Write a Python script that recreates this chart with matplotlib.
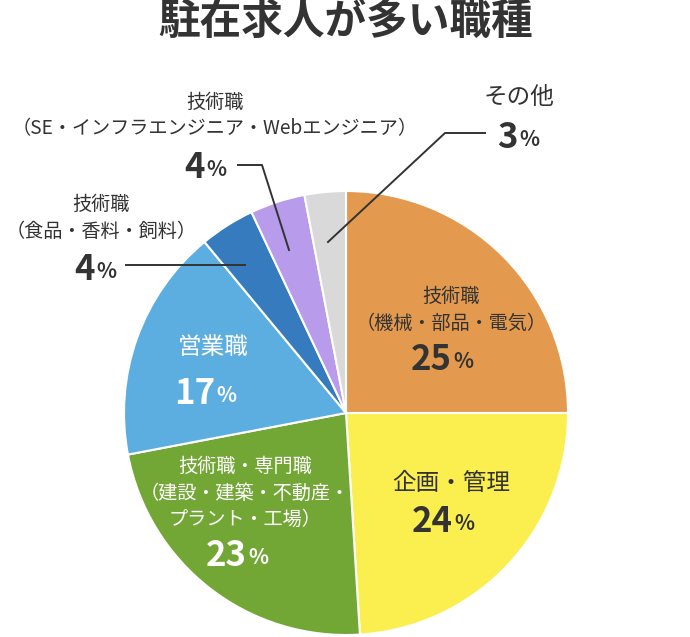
import matplotlib
matplotlib.use('Agg')
import matplotlib.pyplot as plt

plt.rcParams['font.family'] = ['Noto Sans CJK JP', 'DejaVu Sans']

# data
categories = ['技術職\n（機械・部品・電気）', '企画・管理',
              '技術職・専門職\n（建設・建築・不動産・\nプラント・工場）', '営業職',
              '技術職\n（食品・香料・飼料）',
              '技術職\n（SE・インフラエンジニア・Webエンジニア）', 'その他']
shares = [25, 24, 23, 17, 4, 4, 3]
colors = ['#E39A4F', '#FBEE4F', '#72A736', '#5DAEE0', '#367BBE', '#B89BEA', '#D9D9D9']
text_colors = ['#333333', '#333333', 'white', 'white', '#333333', '#333333', '#333333']

W, H = 690, 637
fig = plt.figure(figsize=(W / 100, H / 100), dpi=100)
ax = fig.add_axes([0, 0, 1, 1])

def Y(py):
    return H - py

cx, cy, r = 346, 413, 222
ax.pie(shares, colors=colors, startangle=90, counterclock=False,
       center=(cx, Y(cy)), radius=r, frame=True,
       wedgeprops=dict(edgecolor='white', linewidth=1.5))
ax.set_xlim(0, W)
ax.set_ylim(0, H)
ax.set_aspect('equal')
ax.axis('off')

ax.text(346, Y(22), '駐在求人が多い職種', ha='center', va='center',
        fontsize=30, fontweight='bold', color='#333333')

# label layout: (x of label block, y of label text, y of percent, split x of number/%)
layout = [
    (451, 310, 360, 453),
    (451, 483, 521, 454),
    (245, 493, 555, 248),
    (213, 347, 393, 216),
    (101, 218, 270, 96),
    (215, 116, 168, 206),
    (519, 97, 137, 519),
]

for cat, val, tc, (lx, ly, py, sx) in zip(categories, shares, text_colors, layout):
    fs = 13.8 if '\n' in cat else 17
    ax.text(lx, Y(ly), cat, ha='center', va='center', fontsize=fs,
            color=tc, linespacing=1.32)
    ax.text(sx - 1, Y(py), str(val), ha='right', va='center', fontsize=25,
            fontweight='bold', color=tc)
    ax.text(sx, Y(py) - 2, '%', ha='left', va='center', fontsize=15,
            fontweight='bold', color=tc)

lc = '#333333'
ax.plot([126, 245], [Y(265), Y(265)], color=lc, lw=1.4)
ax.plot([238, 262, 289], [Y(165), Y(165), Y(250)], color=lc, lw=1.4)
ax.plot([485, 445, 328], [Y(133), Y(133), Y(242)], color=lc, lw=1.4)

fig.savefig('out.png', dpi=100, facecolor='white')
